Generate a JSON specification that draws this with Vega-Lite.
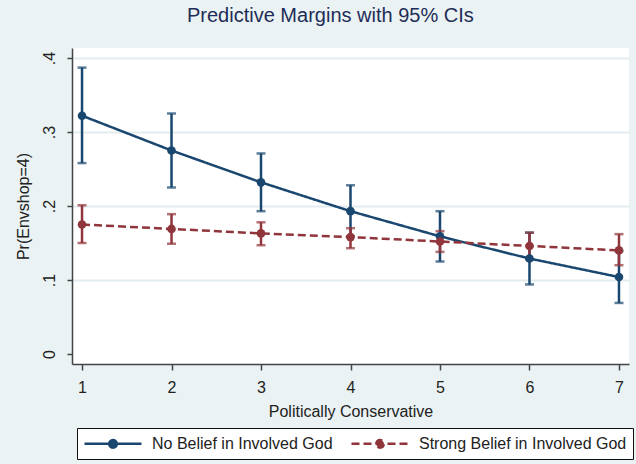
{
  "$schema": "https://vega.github.io/schema/vega-lite/v6.json",
  "autosize": {"type": "none"},
  "width": 557,
  "height": 316,
  "padding": {"left": 72, "top": 48, "right": 7, "bottom": 100},
  "background": "#eaf2f3",
  "title": {
    "text": "Predictive Margins with 95% CIs",
    "font": "Liberation Sans",
    "fontSize": 20,
    "fontWeight": "normal",
    "color": "#1e2d57",
    "anchor": "start",
    "frame": "group",
    "dx": 115,
    "baseline": "alphabetic",
    "offset": 6
  },
  "config": {
    "view": {"fill": "white", "stroke": null},
    "font": "Liberation Sans",
    "axis": {
      "labelFont": "Liberation Sans",
      "titleFont": "Liberation Sans",
      "labelFontSize": 16,
      "titleFontSize": 16,
      "titleFontWeight": "normal",
      "labelColor": "#222222",
      "titleColor": "#222222",
      "domainColor": "#444444",
      "domainWidth": 1.5,
      "tickColor": "#444444",
      "tickWidth": 1.5
    },
    "legend": {
      "labelFont": "Liberation Sans"
    }
  },
  "data": {
    "values": [
      {"series": "No Belief in Involved God", "x": 1, "y": 0.322, "lo": 0.258, "hi": 0.387},
      {"series": "No Belief in Involved God", "x": 2, "y": 0.275, "lo": 0.225, "hi": 0.325},
      {"series": "No Belief in Involved God", "x": 3, "y": 0.232, "lo": 0.193, "hi": 0.271},
      {"series": "No Belief in Involved God", "x": 4, "y": 0.193, "lo": 0.159, "hi": 0.228},
      {"series": "No Belief in Involved God", "x": 5, "y": 0.159, "lo": 0.125, "hi": 0.193},
      {"series": "No Belief in Involved God", "x": 6, "y": 0.129, "lo": 0.094, "hi": 0.164},
      {"series": "No Belief in Involved God", "x": 7, "y": 0.104, "lo": 0.069, "hi": 0.139},
      {"series": "Strong Belief in Involved God", "x": 1, "y": 0.175, "lo": 0.150, "hi": 0.201},
      {"series": "Strong Belief in Involved God", "x": 2, "y": 0.169, "lo": 0.149, "hi": 0.189},
      {"series": "Strong Belief in Involved God", "x": 3, "y": 0.163, "lo": 0.147, "hi": 0.178},
      {"series": "Strong Belief in Involved God", "x": 4, "y": 0.158, "lo": 0.143, "hi": 0.170},
      {"series": "Strong Belief in Involved God", "x": 5, "y": 0.152, "lo": 0.138, "hi": 0.166},
      {"series": "Strong Belief in Involved God", "x": 6, "y": 0.146, "lo": 0.128, "hi": 0.164},
      {"series": "Strong Belief in Involved God", "x": 7, "y": 0.140, "lo": 0.120, "hi": 0.162}
    ]
  },
  "encoding": {
    "x": {
      "field": "x",
      "type": "quantitative",
      "scale": {"domain": [0.888, 7.112], "nice": false, "zero": false},
      "axis": {
        "values": [1, 2, 3, 4, 5, 6, 7],
        "title": "Politically Conservative",
        "grid": false,
        "tickSize": 6,
        "labelPadding": 9,
        "titlePadding": 8
      }
    },
    "color": {
      "field": "series",
      "type": "nominal",
      "scale": {
        "domain": ["No Belief in Involved God", "Strong Belief in Involved God"],
        "range": ["#1a476f", "#90353b"]
      },
      "legend": {
        "title": null,
        "orient": "none",
        "legendX": 5,
        "legendY": 380,
        "direction": "horizontal",
        "fillColor": "white",
        "strokeColor": "#111111",
        "padding": 6,
        "symbolType": "M-1,0L6.125,0M2.0875,0A0.475,0.475,0,1,1,3.0375,0A0.475,0.475,0,1,1,2.0875,0Z",
        "symbolSize": 256,
        "symbolStrokeWidth": 2.5,
        "labelFontSize": 16,
        "labelColor": "#222222",
        "labelOffset": 50,
        "labelLimit": 0,
        "columnPadding": 13,
        "encode": {
          "symbols": {
            "update": {
              "fill": {"scale": "color", "field": "value"},
              "stroke": {"scale": "color", "field": "value"},
              "opacity": {"value": 1},
              "fillOpacity": {"value": 1}
            }
          }
        }
      }
    }
  },
  "layer": [
    {
      "mark": {"type": "rule", "strokeWidth": 2.5},
      "encoding": {
        "y": {
          "field": "lo",
          "type": "quantitative",
          "scale": {"domain": [-0.0135, 0.4135], "nice": false, "zero": false},
          "axis": {
            "values": [0, 0.1, 0.2, 0.3, 0.4],
            "labelExpr": "datum.value == 0 ? '0' : replace(format(datum.value, '.1f'), '0.', '.')",
            "labelAngle": 270,
            "title": "Pr(Envshop=4)",
            "tickSize": 5,
            "labelPadding": 10,
            "titlePadding": 10,
            "gridWidth": 2,
            "gridColor": {"condition": {"test": "datum.value === 0", "value": "transparent"}, "value": "#e3ecef"}
          }
        },
        "y2": {"field": "hi"}
      }
    },
    {
      "mark": {"type": "tick", "orient": "horizontal", "size": 9, "thickness": 2.5},
      "encoding": {"y": {"field": "hi", "type": "quantitative"}}
    },
    {
      "mark": {"type": "tick", "orient": "horizontal", "size": 9, "thickness": 2.5},
      "encoding": {"y": {"field": "lo", "type": "quantitative"}}
    },
    {
      "mark": {"type": "line", "strokeWidth": 2.5},
      "encoding": {
        "y": {"field": "y", "type": "quantitative"},
        "strokeDash": {
          "field": "series",
          "type": "nominal",
          "scale": {
            "domain": ["No Belief in Involved God", "Strong Belief in Involved God"],
            "range": [[1, 0], [8, 4]]
          },
          "legend": {"title": null}
        }
      }
    },
    {
      "mark": {"type": "point", "filled": true, "size": 75, "opacity": 1},
      "encoding": {"y": {"field": "y", "type": "quantitative"}}
    }
  ]
}
